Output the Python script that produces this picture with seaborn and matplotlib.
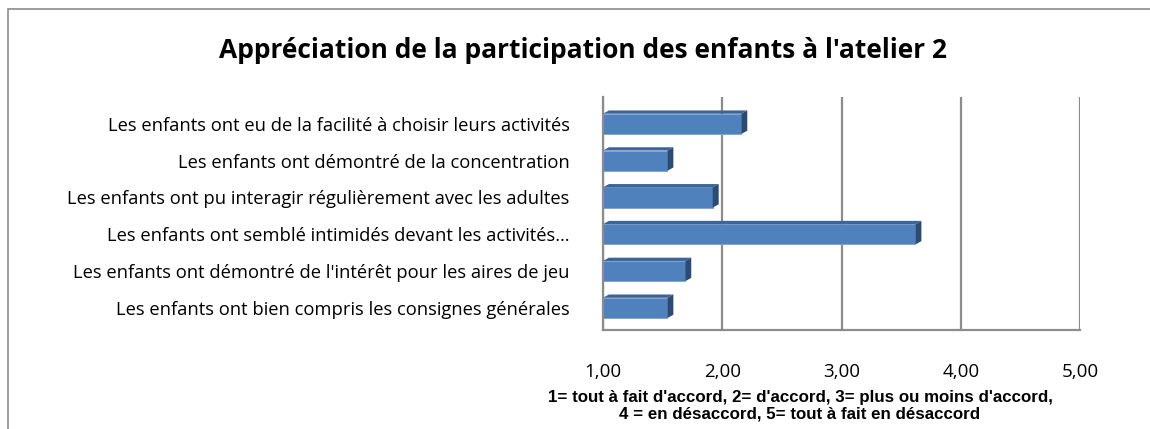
import matplotlib
matplotlib.use("Agg")
import matplotlib.pyplot as plt
from matplotlib.patches import Rectangle, Polygon
import pandas as pd
import seaborn as sns

# Data
questions = [
    "Les enfants ont eu de la facilité à choisir leurs activités",
    "Les enfants ont démontré de la concentration",
    "Les enfants ont pu interagir régulièrement avec les adultes",
    "Les enfants ont semblé intimidés devant les activités…",
    "Les enfants ont démontré de l'intérêt pour les aires de jeu",
    "Les enfants ont bien compris les consignes générales",
]
scores = [2.16, 1.54, 1.92, 3.62, 1.69, 1.54]
x_ticks = [1, 2, 3, 4, 5]
x_tick_labels = ["1,00", "2,00", "3,00", "4,00", "5,00"]
title = "Appréciation de la participation des enfants à l'atelier 2"
caption = ("1= tout à fait d'accord, 2= d'accord, 3= plus ou moins d'accord,\n"
           "4 = en désaccord, 5= tout à fait en désaccord")

FRONT = "#4F81BD"
TOP = "#3C6496"
SIDE = "#2C4B74"
GRID = "#8C8C8C"


def build_frame():
    return pd.DataFrame({"question": questions, "score": scores})


def draw_chart(df):
    sns.set_style("white")
    plt.rcParams["font.family"] = ["Open Sans", "DejaVu Sans"]
    plt.rcParams["text.color"] = "black"
    plt.rcParams["xtick.color"] = "black"
    plt.rcParams["ytick.color"] = "black"

    fig = plt.figure(figsize=(11.5, 4.29), dpi=100)
    fig.patches.append(Rectangle((0.007, -0.02), 1.2, 1.0, transform=fig.transFigure,
                                 fill=False, edgecolor="#8C8C8C", linewidth=1.2))

    ax = fig.add_axes([603 / 1150, 1 - 330 / 429, (1080 - 603) / 1150, (330 - 97) / 429])
    sns.barplot(data=df, x="score", y="question", orient="h", color=FRONT,
                width=0.55, saturation=1, edgecolor="#7FA1CF", linewidth=0.6, ax=ax)

    # bars grow from 1 (scale starts at 1,00)
    for p in ax.patches:
        w = p.get_width()
        p.set_x(1)
        p.set_width(w - 1)

    # light pseudo 3D faces
    dx, dy = 0.05, 0.09
    for p in list(ax.patches):
        x0, y0 = p.get_x(), p.get_y()
        x1, y1 = x0 + p.get_width(), y0 + p.get_height()
        ax.add_patch(Polygon([(x0, y0), (x1, y0), (x1 + dx, y0 - dy), (x0 + dx, y0 - dy)],
                             closed=True, facecolor=TOP, edgecolor="none", zorder=3))
        ax.add_patch(Polygon([(x1, y0), (x1 + dx, y0 - dy), (x1 + dx, y1 - dy), (x1, y1)],
                             closed=True, facecolor=SIDE, edgecolor="none", zorder=3))

    ax.set_xlim(1, 5)
    ax.set_ylim(5.6, -0.73)
    ax.set_xticks(x_ticks)
    ax.set_xticklabels(x_tick_labels, fontsize=13.5)
    ax.xaxis.grid(True, color=GRID, linewidth=1.6)
    ax.set_axisbelow(True)
    ax.tick_params(axis="x", length=0, pad=24)
    ax.tick_params(axis="y", length=0, pad=24, labelsize=13.2)
    ax.set_xlabel("")
    ax.set_ylabel("")
    for side in ["top", "right"]:
        ax.spines[side].set_visible(False)
    for side in ["left", "bottom"]:
        ax.spines[side].set_color(GRID)
        ax.spines[side].set_linewidth(1.6)

    fig.text(583 / 1150, 1 - 50 / 429, title, ha="center", va="center",
             fontsize=19, fontweight="bold")
    fig.text(800 / 1150, 1 - 406 / 429, caption, ha="center", va="center",
             fontsize=12.2, fontweight="bold", family="Liberation Sans", linespacing=1.1)

    fig.savefig("out.png", dpi=100)
    plt.close(fig)


if __name__ == "__main__":
    df = build_frame()
    draw_chart(df)
